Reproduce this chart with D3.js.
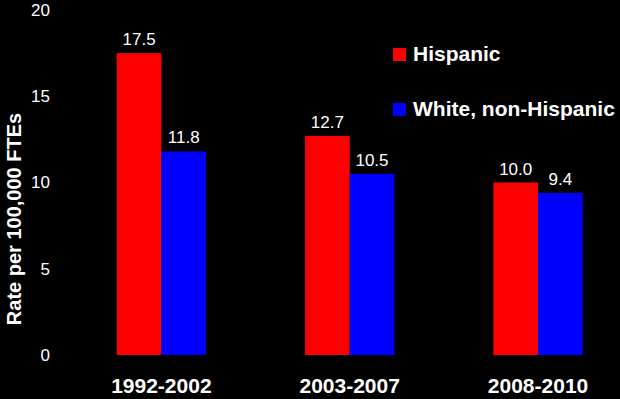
<!DOCTYPE html>
<html>
<head>
<meta charset="utf-8">
<script src="https://cdn.jsdelivr.net/npm/d3@7"></script>
<style>
  html, body { margin: 0; padding: 0; background: #000; }
  text { font-family: "Liberation Sans", Arial, sans-serif; fill: #fff; }
</style>
</head>
<body>
<div id="chart-container"></div>
<script>
// data
const periods = ["1992-2002", "2003-2007", "2008-2010"];
const seriesNames = ["Hispanic", "White, non-Hispanic"];
const hispanic = [17.5, 12.7, 10.0];
const whiteNonHispanic = [11.8, 10.5, 9.4];
const yTicks = [0, 5, 10, 15, 20];
const colors = ["#ff0000", "#0000ff"];

const width = 620, height = 399;

const svg = d3.select("#chart-container")
  .append("svg")
  .attr("width", width)
  .attr("height", height)
  .style("background", "#000");

// scales
const x = d3.scaleBand()
  .domain(periods)
  .range([67.2, 632.2])
  .paddingInner(0.526)
  .paddingOuter(0.263);

const xSub = d3.scaleBand()
  .domain(seriesNames)
  .range([0, x.bandwidth()]);

const y = d3.scaleLinear()
  .domain([0, 20])
  .range([355, 10]);

// y axis (labels only, no lines)
const yAxis = svg.append("g")
  .attr("transform", "translate(50,0)")
  .call(d3.axisLeft(y).tickValues(yTicks).tickSize(0).tickPadding(0));
yAxis.select(".domain").remove();
yAxis.selectAll("text")
  .style("font-family", "Liberation Sans, Arial, sans-serif")
  .style("font-size", "17px")
  .attr("fill", "#fff");

// y axis label
svg.append("text")
  .attr("transform", "translate(21,219) rotate(-90)")
  .attr("text-anchor", "middle")
  .style("font-size", "20px")
  .style("font-weight", "bold")
  .text("Rate per 100,000 FTEs");

// x axis labels
const xAxis = svg.append("g")
  .attr("transform", "translate(0,375)")
  .call(d3.axisBottom(x).tickSize(0).tickPadding(0));
xAxis.select(".domain").remove();
xAxis.selectAll("text")
  .attr("dy", "0.71em")
  .attr("y", 3)
  .style("font-family", "Liberation Sans, Arial, sans-serif")
  .style("font-size", "21px")
  .style("font-weight", "bold")
  .attr("fill", "#fff");

// bars
const rows = periods.map((p, i) => ({
  period: p,
  values: [
    { name: seriesNames[0], value: hispanic[i] },
    { name: seriesNames[1], value: whiteNonHispanic[i] }
  ]
}));

const groups = svg.selectAll(".group")
  .data(rows)
  .enter()
  .append("g")
  .attr("class", "group")
  .attr("transform", (d) => "translate(" + x(d.period) + ",0)");

groups.selectAll("rect")
  .data((d) => d.values)
  .enter()
  .append("rect")
  .attr("x", (d) => xSub(d.name))
  .attr("y", (d) => y(d.value))
  .attr("width", xSub.bandwidth())
  .attr("height", (d) => y(0) - y(d.value))
  .attr("fill", (d, i) => colors[i]);

// value labels
groups.selectAll(".val")
  .data((d) => d.values)
  .enter()
  .append("text")
  .attr("class", "val")
  .attr("x", (d) => xSub(d.name) + xSub.bandwidth() / 2)
  .attr("y", (d) => y(d.value) - 8)
  .attr("text-anchor", "middle")
  .style("font-size", "17px")
  .text((d) => d.value.toFixed(1));

// legend
const legend = svg.selectAll(".legend")
  .data(seriesNames)
  .enter()
  .append("g")
  .attr("class", "legend")
  .attr("transform", (d, i) => "translate(393," + (48 + i * 55) + ")");

legend.append("rect")
  .attr("width", 13)
  .attr("height", 13)
  .attr("fill", (d, i) => colors[i]);

legend.append("text")
  .attr("x", 20)
  .attr("y", 13)
  .style("font-size", "21px")
  .style("font-weight", "bold")
  .text((d) => d);
</script>
</body>
</html>
